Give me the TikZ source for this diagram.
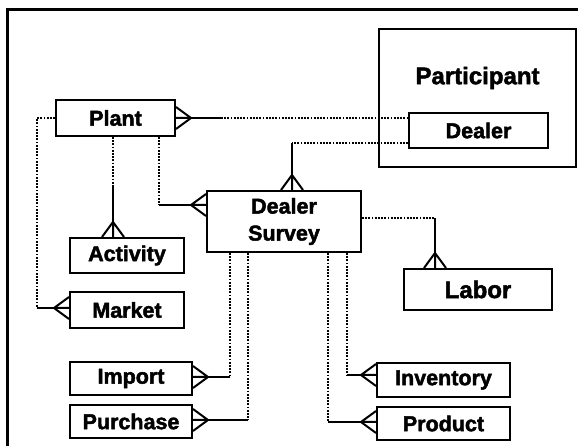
\documentclass[tikz,border=0pt]{standalone}
\usepackage{fontspec}
\setmainfont{Liberation Sans}[BoldFeatures={FakeBold=2}]

\begin{document}
\begin{tikzpicture}[x=1pt,y=1pt,
	entity/.style={draw, line width=2pt, inner sep=0pt, font=\fontsize{21.5}{27}\selectfont\bfseries},
	opt/.style={line width=2.2pt, dash pattern=on 1.8pt off 1.4pt},
	mand/.style={line width=2pt},
	crow/.pic={\draw[mand] (0,11) -- (-15,0) -- (0,-11) (-15,0) -- (0,0);}]

	\useasboundingbox (0,0) rectangle (578,446);
	\draw[line width=3pt] (7.5,0) -- (7.5,436) -- (578,436);

	% entities
	\node[draw, line width=2pt, minimum width=197, minimum height=138] (participant) at (477.5,348) {};
	\node[font=\fontsize{24}{28}\selectfont\bfseries] (title) at (477.5,368) {Participant};
	\node[entity, minimum width=139, minimum height=35] (dealer) at (478.5,315.5) {Dealer};
	\node[entity, minimum width=119, minimum height=36] (plant) at (115.5,328) {Plant};
	\node[entity, minimum width=154, minimum height=61, align=center] (survey) at (284,224.5) {Dealer\\Survey};
	\node[entity, minimum width=114, minimum height=35] (activity) at (127,190.5) {Activity};
	\node[entity, minimum width=114, minimum height=36] (market) at (127,136) {Market};
	\node[entity, minimum width=148, minimum height=41, font=\fontsize{24}{28}\selectfont\bfseries] (labor) at (478,156.5) {Labor};
	\node[entity, minimum width=122, minimum height=33] (import) at (131,67.5) {Import};
	\node[entity, minimum width=122, minimum height=33] (purchase) at (131,24.5) {Purchase};
	\node[entity, minimum width=133, minimum height=34] (inventory) at (443.5,66) {Inventory};
	\node[entity, minimum width=133, minimum height=33] (product) at (443.5,22.5) {Product};

	% bends
	\coordinate (b1) at (292,303);
	\coordinate (b2) at (159,241);
	\coordinate (b3) at (113,259);
	\coordinate (b4) at (37,138);
	\coordinate (b5) at (230,69);
	\coordinate (b6) at (248,26);
	\coordinate (b7) at (435,228);
	\coordinate (b8) at (347,71);
	\coordinate (b9) at (328,24);

	% plant -- dealer
	\draw[mand] (plant.east) -- ++(45,0) coordinate (pd);
	\draw[opt] (pd) -- (pd -| dealer.west);
	\pic[rotate=180] at (plant.east) {crow};

	% dealer -- survey
	\draw[opt] (b1 -| dealer.west) -- (b1);
	\draw[mand] (b1) -- (b1 |- survey.north);
	\pic[rotate=-90] at (b1 |- survey.north) {crow};

	% plant -- survey
	\draw[opt] (b2 |- plant.south) -- (b2);
	\draw[mand] (b2) -- (b2 -| survey.west);
	\pic at (b2 -| survey.west) {crow};

	% plant -- activity
	\draw[opt] (b3 |- plant.south) -- (b3);
	\draw[mand] (b3) -- (b3 |- activity.north);
	\pic[rotate=-90] at (b3 |- activity.north) {crow};

	% plant -- market
	\draw[opt] (plant.west) -| (b4);
	\draw[mand] (b4) -- (b4 -| market.west);
	\pic at (b4 -| market.west) {crow};

	% survey -- import, purchase
	\draw[opt] (b5 |- survey.south) -- (b5);
	\draw[mand] (b5) -- (b5 -| import.east);
	\pic[rotate=180] at (b5 -| import.east) {crow};
	\draw[opt] (b6 |- survey.south) -- (b6);
	\draw[mand] (b6) -- (b6 -| purchase.east);
	\pic[rotate=180] at (b6 -| purchase.east) {crow};

	% survey -- labor
	\draw[opt] (b7 -| survey.east) -- (b7);
	\draw[mand] (b7) -- (b7 |- labor.north);
	\pic[rotate=-90] at (b7 |- labor.north) {crow};

	% survey -- inventory, product
	\draw[opt] (b8 |- survey.south) -- (b8);
	\draw[mand] (b8) -- (b8 -| inventory.west);
	\pic at (b8 -| inventory.west) {crow};
	\draw[opt] (b9 |- survey.south) -- (b9);
	\draw[mand] (b9) -- (b9 -| product.west);
	\pic at (b9 -| product.west) {crow};
\end{tikzpicture}
\end{document}
